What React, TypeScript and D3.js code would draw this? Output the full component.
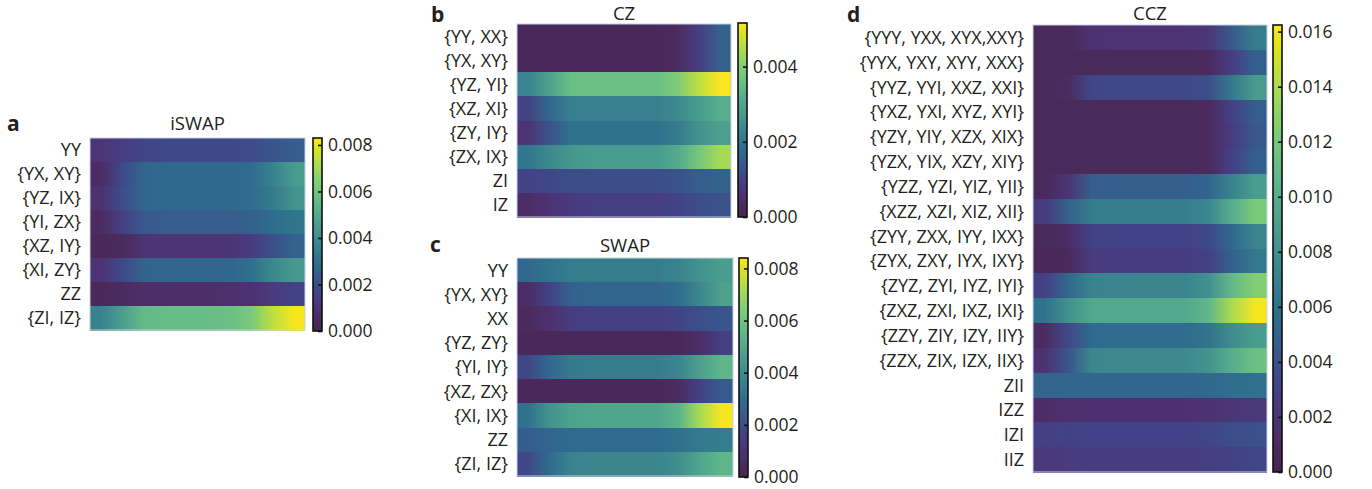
import React, { useEffect, useRef } from 'react';
import * as d3 from 'd3';

// row labels
const iswapLabels = ['YY', '{YX, XY}', '{YZ, IX}', '{YI, ZX}', '{XZ, IY}', '{XI, ZY}', 'ZZ', '{ZI, IZ}'];
const czLabels = ['{YY, XX}', '{YX, XY}', '{YZ, YI}', '{XZ, XI}', '{ZY, IY}', '{ZX, IX}', 'ZI', 'IZ'];
const swapLabels = ['YY', '{YX, XY}', 'XX', '{YZ, ZY}', '{YI, IY}', '{XZ, ZX}', '{XI, IX}', 'ZZ', '{ZI, IZ}'];
const cczLabels = [
  '{YYY, YXX, XYX,XXY}', '{YYX, YXY, XYY, XXX}', '{YYZ, YYI, XXZ, XXI}', '{YXZ, YXI, XYZ, XYI}',
  '{YZY, YIY, XZX, XIX}', '{YZX, YIX, XZY, XIY}', '{YZZ, YZI, YIZ, YII}', '{XZZ, XZI, XIZ, XII}',
  '{ZYY, ZXX, IYY, IXX}', '{ZYX, ZXY, IYX, IXY}', '{ZYZ, ZYI, IYZ, IYI}', '{ZXZ, ZXI, IXZ, IXI}',
  '{ZZY, ZIY, IZY, IIY}', '{ZZX, ZIX, IZX, IIX}', 'ZII', 'IZZ', 'IZI', 'IIZ',
];

// values per row, 10 columns left -> right
const iswapValues = [
  [0.0011, 0.0014, 0.0017, 0.0018, 0.0018, 0.0018, 0.0018, 0.0019, 0.0022, 0.0024],
  [0.0006, 0.0018, 0.0027, 0.0028, 0.0028, 0.0028, 0.0028, 0.0029, 0.0036, 0.0045],
  [0.0009, 0.0019, 0.0027, 0.0028, 0.0028, 0.0028, 0.0028, 0.0029, 0.0034, 0.0042],
  [0.0005, 0.0015, 0.0023, 0.0024, 0.0024, 0.0024, 0.0024, 0.0025, 0.0029, 0.0032],
  [0.0003, 0.0004, 0.0010, 0.0011, 0.0011, 0.0011, 0.0011, 0.0013, 0.0020, 0.0026],
  [0.0010, 0.0018, 0.0026, 0.0027, 0.0027, 0.0027, 0.0027, 0.0030, 0.0038, 0.0044],
  [0.0003, 0.0005, 0.0007, 0.0007, 0.0007, 0.0007, 0.0008, 0.0009, 0.0013, 0.0016],
  [0.0036, 0.0046, 0.0056, 0.0057, 0.0057, 0.0057, 0.0058, 0.0062, 0.0074, 0.0082],
];
const czValues = [
  [0.0002, 0.0002, 0.0002, 0.0002, 0.0002, 0.0002, 0.0002, 0.0003, 0.0009, 0.0016],
  [0.0002, 0.0002, 0.0002, 0.0002, 0.0002, 0.0002, 0.0002, 0.0003, 0.0009, 0.0016],
  [0.0023, 0.0029, 0.0036, 0.0036, 0.0036, 0.0036, 0.0036, 0.0039, 0.0046, 0.0051],
  [0.0010, 0.0017, 0.0022, 0.0022, 0.0022, 0.0022, 0.0022, 0.0024, 0.0028, 0.0032],
  [0.0006, 0.0013, 0.0019, 0.0019, 0.0019, 0.0019, 0.0019, 0.0021, 0.0026, 0.0029],
  [0.0020, 0.0024, 0.0027, 0.0028, 0.0028, 0.0028, 0.0028, 0.0031, 0.0038, 0.0044],
  [0.0010, 0.0011, 0.0012, 0.0012, 0.0012, 0.0012, 0.0012, 0.0013, 0.0015, 0.0016],
  [0.0004, 0.0006, 0.0008, 0.0009, 0.0009, 0.0009, 0.0009, 0.0010, 0.0012, 0.0013],
];
const swapValues = [
  [0.0028, 0.0032, 0.0035, 0.0035, 0.0035, 0.0035, 0.0035, 0.0037, 0.0042, 0.0046],
  [0.0006, 0.0016, 0.0026, 0.0027, 0.0027, 0.0027, 0.0027, 0.0030, 0.0039, 0.0048],
  [0.0004, 0.0008, 0.0014, 0.0015, 0.0015, 0.0015, 0.0015, 0.0017, 0.0020, 0.0022],
  [0.0003, 0.0003, 0.0003, 0.0003, 0.0003, 0.0003, 0.0003, 0.0003, 0.0007, 0.0015],
  [0.0018, 0.0028, 0.0034, 0.0035, 0.0035, 0.0035, 0.0035, 0.0038, 0.0047, 0.0055],
  [0.0003, 0.0003, 0.0003, 0.0003, 0.0003, 0.0003, 0.0003, 0.0005, 0.0016, 0.0024],
  [0.0031, 0.0042, 0.0048, 0.0049, 0.0049, 0.0049, 0.0049, 0.0054, 0.0072, 0.0083],
  [0.0024, 0.0027, 0.0029, 0.0029, 0.0029, 0.0029, 0.0029, 0.0031, 0.0034, 0.0035],
  [0.0018, 0.0029, 0.0037, 0.0038, 0.0038, 0.0038, 0.0038, 0.0041, 0.0049, 0.0055],
];
const cczValues = [
  [0.0007, 0.0007, 0.0018, 0.0019, 0.0019, 0.0019, 0.0019, 0.0021, 0.0045, 0.0068],
  [0.0007, 0.0007, 0.0007, 0.0007, 0.0007, 0.0007, 0.0007, 0.0008, 0.0028, 0.0049],
  [0.0007, 0.0009, 0.0034, 0.0035, 0.0035, 0.0035, 0.0035, 0.0038, 0.0065, 0.0088],
  [0.0007, 0.0007, 0.0007, 0.0007, 0.0007, 0.0007, 0.0007, 0.0008, 0.0030, 0.0048],
  [0.0007, 0.0007, 0.0007, 0.0007, 0.0007, 0.0007, 0.0007, 0.0008, 0.0027, 0.0044],
  [0.0007, 0.0007, 0.0007, 0.0007, 0.0007, 0.0007, 0.0007, 0.0008, 0.0030, 0.0049],
  [0.0007, 0.0020, 0.0047, 0.0048, 0.0048, 0.0048, 0.0048, 0.0052, 0.0072, 0.0089],
  [0.0025, 0.0050, 0.0067, 0.0068, 0.0068, 0.0068, 0.0068, 0.0074, 0.0100, 0.0122],
  [0.0007, 0.0012, 0.0031, 0.0032, 0.0032, 0.0032, 0.0032, 0.0035, 0.0055, 0.0073],
  [0.0006, 0.0007, 0.0026, 0.0027, 0.0027, 0.0027, 0.0027, 0.0030, 0.0050, 0.0065],
  [0.0030, 0.0055, 0.0072, 0.0073, 0.0073, 0.0073, 0.0073, 0.0080, 0.0108, 0.0126],
  [0.0060, 0.0080, 0.0096, 0.0097, 0.0097, 0.0097, 0.0097, 0.0106, 0.0140, 0.0160],
  [0.0010, 0.0035, 0.0056, 0.0057, 0.0057, 0.0057, 0.0057, 0.0062, 0.0078, 0.0089],
  [0.0018, 0.0042, 0.0074, 0.0076, 0.0076, 0.0076, 0.0076, 0.0082, 0.0100, 0.0114],
  [0.0052, 0.0053, 0.0053, 0.0053, 0.0053, 0.0053, 0.0053, 0.0054, 0.0058, 0.0060],
  [0.0013, 0.0016, 0.0017, 0.0017, 0.0017, 0.0017, 0.0017, 0.0018, 0.0021, 0.0024],
  [0.0029, 0.0031, 0.0032, 0.0032, 0.0032, 0.0032, 0.0032, 0.0033, 0.0037, 0.0040],
  [0.0023, 0.0026, 0.0027, 0.0027, 0.0027, 0.0027, 0.0027, 0.0028, 0.0031, 0.0034],
];

// colorbar ticks
const iswapTicks = [0, 0.002, 0.004, 0.006, 0.008];
const czTicks = [0, 0.002, 0.004];
const swapTicks = [0, 0.002, 0.004, 0.006, 0.008];
const cczTicks = [0, 0.002, 0.004, 0.006, 0.008, 0.01, 0.012, 0.014, 0.016];

const panels = [
  { key: 'a', title: 'iSWAP', labels: iswapLabels, values: iswapValues, max: 0.0083, ticks: iswapTicks,
    x0: 90, x1: 305, y0: 138, y1: 330, cbX: 313, cbY0: 138, cbY1: 331, letterX: 7, letterY: 131, titleY: 130 },
  { key: 'b', title: 'CZ', labels: czLabels, values: czValues, max: 0.00516, ticks: czTicks,
    x0: 517, x1: 731, y0: 24, y1: 217, cbX: 738, cbY0: 23, cbY1: 217, letterX: 431, letterY: 21.5, titleY: 19.5 },
  { key: 'c', title: 'SWAP', labels: swapLabels, values: swapValues, max: 0.0084, ticks: swapTicks,
    x0: 517, x1: 733, y0: 258, y1: 476, cbX: 739, cbY0: 258, cbY1: 477, letterX: 430, letterY: 252, titleY: 252 },
  { key: 'd', title: 'CCZ', labels: cczLabels, values: cczValues, max: 0.01624, ticks: cczTicks,
    x0: 1033, x1: 1267, y0: 25, y1: 472, cbX: 1273, cbY0: 25, cbY1: 472, letterX: 847, letterY: 21.5, titleY: 19.5 },
];

const font = "'Open Sans', sans-serif";
const ink = '#231f20';

// viridis as printed in the figure: dull dark end, muted greens, bright yellow top
const softViridis = t => {
  const c = d3.hcl(d3.interpolateViridis(t));
  const k = Math.min(1, t / 0.2);
  const hump = Math.sin(Math.PI * Math.min(1, Math.max(0, (t - 0.35) / 0.6)));
  c.c *= (0.55 + 0.45 * k) * (1 - 0.25 * hump);
  c.l += 6 * (1 - k) + 2 * hump;
  return c.formatHex();
};

const App = () => {
  const ref = useRef(null);

  useEffect(() => {
    const svg = d3.select(ref.current);
    svg.selectAll('*').remove();
    const defs = svg.append('defs');

    panels.forEach(p => {
      const color = d3.scaleSequential(softViridis).domain([0, p.max]);
      const y = d3.scaleBand().domain(p.labels).range([p.y0, p.y1]);
      const nCols = p.values[0].length;
      const col = d3.scaleBand().domain(d3.range(nCols)).range([0, 1]);
      const g = svg.append('g');

      // row gradients
      p.values.forEach((row, i) => {
        const grad = defs.append('linearGradient')
          .attr('id', `grad-${p.key}-${i}`)
          .attr('x1', '0%').attr('x2', '100%').attr('y1', '0%').attr('y2', '0%');
        row.forEach((v, j) => {
          grad.append('stop')
            .attr('offset', `${(col(j) + col.bandwidth() / 2) * 100}%`)
            .attr('stop-color', color(v));
        });
      });

      g.selectAll('rect.row')
        .data(p.labels)
        .enter()
        .append('rect')
        .attr('class', 'row')
        .attr('x', p.x0)
        .attr('y', d => y(d))
        .attr('width', p.x1 - p.x0)
        .attr('height', y.bandwidth() + 0.5)
        .attr('shape-rendering', 'crispEdges')
        .attr('fill', (d, i) => `url(#grad-${p.key}-${i})`);

      g.append('rect')
        .attr('x', p.x0).attr('y', p.y0)
        .attr('width', p.x1 - p.x0).attr('height', p.y1 - p.y0)
        .attr('fill', 'none')
        .attr('stroke', '#c9d1e2')
        .attr('stroke-width', 1);

      // row labels
      g.selectAll('text.lab')
        .data(p.labels)
        .enter()
        .append('text')
        .attr('class', 'lab')
        .attr('x', p.x0 - 9)
        .attr('y', d => y(d) + y.bandwidth() / 2)
        .attr('dy', '0.36em')
        .attr('text-anchor', 'end')
        .attr('font-family', font)
        .attr('font-size', 18)
        .attr('fill', ink)
        .text(d => d);

      g.append('text')
        .attr('x', (p.x0 + p.x1) / 2)
        .attr('y', p.titleY)
        .attr('text-anchor', 'middle')
        .attr('font-family', font)
        .attr('font-size', 18.5)
        .attr('fill', ink)
        .text(p.title);

      g.append('text')
        .attr('x', p.letterX)
        .attr('y', p.letterY)
        .attr('font-family', font)
        .attr('font-weight', 'bold')
        .attr('font-size', 21)
        .attr('fill', ink)
        .text(p.key);

      // colorbar
      const cy = d3.scaleLinear().domain([0, p.max]).range([p.cbY1, p.cbY0]);
      const cbGrad = defs.append('linearGradient')
        .attr('id', `cb-${p.key}`)
        .attr('x1', '0%').attr('x2', '0%').attr('y1', '100%').attr('y2', '0%');
      d3.range(0, 1.0001, 0.05).forEach(t => {
        cbGrad.append('stop').attr('offset', `${t * 100}%`).attr('stop-color', softViridis(t));
      });
      g.append('rect')
        .attr('x', p.cbX).attr('y', p.cbY0)
        .attr('width', 9).attr('height', p.cbY1 - p.cbY0)
        .attr('fill', `url(#cb-${p.key})`)
        .attr('stroke', '#111')
        .attr('stroke-width', 1.6);

      const axis = g.append('g')
        .attr('transform', `translate(${p.cbX + 9},0)`)
        .call(d3.axisRight(cy).tickValues(p.ticks).tickFormat(d3.format('.3f'))
          .tickSizeInner(-4).tickSizeOuter(0).tickPadding(6));
      axis.select('.domain').remove();
      axis.selectAll('line').attr('stroke', '#111').attr('stroke-width', 1.6);
      axis.selectAll('text')
        .attr('font-family', font)
        .attr('font-size', 17.5)
        .attr('fill', ink);
    });
  }, []);

  return (
    <svg ref={ref} width={1372} height={489}
      style={{ position: 'absolute', left: 0, top: 0, background: '#fff' }} />
  );
};

export default App;
